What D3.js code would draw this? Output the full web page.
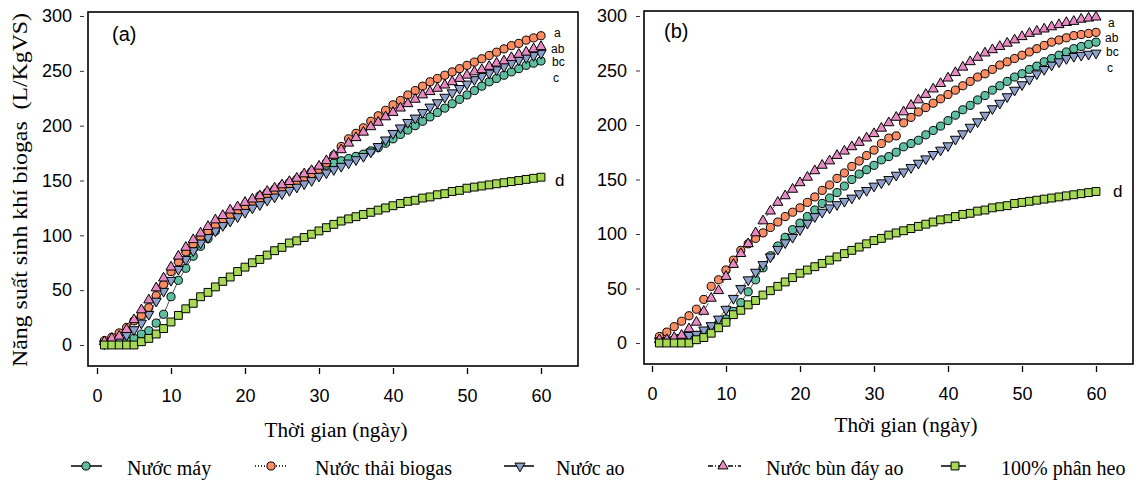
<!DOCTYPE html>
<html>
<head>
<meta charset="utf-8">
<script src="https://cdn.jsdelivr.net/npm/d3@7"></script>
<style>
  body { margin: 0; background: #fff; }
  .tick text { font-family: "Liberation Sans", Arial, sans-serif; font-size: 18px; fill: #000; }
  .serif { font-family: "Liberation Serif", "Times New Roman", serif; fill: #000; }
</style>
</head>
<body>
<svg id="chart" width="1138" height="482"></svg>
<script>
// days 1..60
let days = d3.range(1, 61);

// panel (a)
let mayA = [1, 2, 3, 4, 6, 10, 13, 20, 28, 44,
  59, 70, 81, 90, 97, 104, 110, 116, 121, 126,
  131, 136, 139, 142, 145, 148, 151, 155, 158, 161,
  164, 166, 168, 170, 172, 174, 177, 180, 184, 188,
  192, 196, 200, 204, 208, 212, 216, 220, 224, 228,
  232, 236, 240, 243, 246, 249, 252, 255, 257, 259];
let thaiA = [4, 7, 11, 16, 22, 27, 34, 45, 55, 67,
  76, 85, 92, 99, 104, 109, 114, 118, 122, 126,
  129, 132, 136, 139, 142, 146, 149, 152, 156, 160,
  166, 173, 181, 188, 193, 198, 204, 209, 214, 219,
  223, 228, 232, 236, 240, 243, 246, 249, 252, 255,
  258, 261, 264, 267, 270, 273, 275, 278, 280, 282];
let aoA = [1, 2, 4, 9, 14, 20, 28, 40, 49, 59,
  69, 78, 86, 93, 98, 104, 109, 113, 117, 121,
  125, 128, 132, 135, 138, 141, 144, 147, 150, 154,
  157, 160, 163, 166, 169, 172, 176, 181, 187, 193,
  198, 203, 207, 212, 217, 221, 226, 230, 234, 238,
  242, 245, 248, 251, 254, 257, 260, 262, 264, 266];
let bunA = [3, 6, 8, 14, 23, 32, 41, 52, 61, 71,
  81, 89, 96, 102, 108, 114, 118, 123, 126, 130,
  133, 136, 140, 143, 146, 149, 152, 156, 159, 163,
  168, 173, 178, 184, 189, 194, 199, 203, 208, 212,
  216, 220, 224, 228, 231, 234, 237, 240, 243, 246,
  249, 251, 254, 257, 259, 262, 265, 267, 270, 272];
let heoA = [0, 0, 0, 0, 0, 3, 6, 10, 15, 21,
  27, 33, 38, 44, 48, 53, 58, 62, 67, 71,
  75, 78, 82, 86, 89, 93, 95, 98, 101, 104,
  107, 110, 113, 115, 117, 119, 121, 123, 125, 127,
  129, 131, 132, 134, 135, 137, 138, 140, 141, 143,
  144, 145, 146, 147, 148, 149, 150, 151, 152, 153];

// panel (b)
let mayB = [2, 2, 3, 3, 5, 7, 10, 14, 18, 22,
  29, 37, 47, 58, 69, 80, 89, 97, 104, 110,
  116, 122, 128, 133, 138, 144, 150, 155, 159, 163,
  168, 171, 175, 180, 183, 186, 191, 195, 199, 204,
  209, 214, 218, 223, 227, 232, 236, 240, 244, 247,
  251, 254, 258, 261, 264, 267, 270, 272, 274, 276];
let thaiB = [6, 10, 15, 20, 25, 31, 40, 52, 58, 67,
  76, 85, 91, 96, 101, 106, 111, 116, 120, 124,
  129, 134, 140, 145, 151, 156, 162, 167, 172, 177,
  183, 188, 190, 202, 207, 212, 216, 220, 224, 228,
  232, 236, 240, 244, 247, 251, 255, 258, 261, 264,
  267, 270, 273, 276, 278, 280, 282, 283, 284, 285];
let aoB = [2, 2, 3, 5, 7, 8, 12, 16, 22, 31,
  41, 50, 58, 65, 72, 79, 86, 92, 97, 104,
  110, 116, 120, 124, 127, 130, 133, 137, 140, 144,
  147, 150, 154, 157, 161, 165, 169, 173, 177, 181,
  187, 192, 198, 203, 209, 215, 220, 226, 232, 237,
  242, 247, 251, 255, 258, 261, 263, 264, 265, 266];
let bunB = [3, 3, 5, 7, 13, 19, 29, 41, 48, 61,
  72, 82, 91, 101, 112, 121, 129, 135, 141, 147,
  152, 158, 163, 167, 172, 176, 180, 184, 188, 192,
  197, 202, 207, 212, 218, 223, 228, 233, 238, 243,
  248, 253, 258, 262, 266, 269, 272, 275, 278, 281,
  284, 286, 288, 290, 292, 294, 295, 297, 298, 299];
let heoB = [0, 0, 0, 0, 0, 3, 5, 9, 14, 19,
  26, 30, 35, 39, 44, 48, 52, 56, 60, 64,
  67, 70, 73, 76, 79, 82, 85, 88, 91, 94,
  96, 99, 101, 103, 105, 107, 109, 111, 113, 114,
  116, 118, 119, 121, 122, 124, 125, 126, 128, 129,
  130, 131, 132, 133, 134, 135, 136, 137, 138, 139];

let seriesNames = ['Nước máy', 'Nước thải biogas', 'Nước ao', 'Nước bùn đáy ao', '100% phân heo'];
let seriesColors = ['#5dbf9f', '#fc8d62', '#8da0cb', '#e78ac3', '#a6d854'];
let seriesShapes = ['circle', 'circle', 'down', 'up', 'square'];
let seriesDash = [null, '1,2', null, '5,2,1,2', null];

let xTicks = [0, 10, 20, 30, 40, 50, 60];
let yTicks = [0, 50, 100, 150, 200, 250, 300];

// significance letters at the line ends
let lettersA = ['a', 'ab', 'bc', 'c', 'd'];
let letterValA = [281, 266, 254, 240, 145];
let lettersB = ['a', 'ab', 'bc', 'c', 'd'];
let letterValB = [290, 276, 263, 249, 134];

let svg = d3.select('#chart');

let panels = [
  { tag: '(a)', series: [mayA, thaiA, aoA, bunA, heoA], letters: lettersA, letterVals: letterValA,
    frame: [88, 12, 578, 366], xr: [97, 541], yr: [345, 16], yAxisX: 84, yPad: 8, xAxisY: 368,
    tagPos: [112, 41], titlePos: [336, 437], letterDx: [13, 10, 11, 12, 14] },
  { tag: '(b)', series: [mayB, thaiB, aoB, bunB, heoB], letters: lettersB, letterVals: letterValB,
    frame: [644, 11, 1133, 364], xr: [652, 1096], yr: [343, 16], yAxisX: 640, yPad: 9, xAxisY: 366,
    tagPos: [664, 38], titlePos: [906, 432], letterDx: [12, 9, 10, 11, 17] }
];

function symbolPath(shape) {
  if (shape == 'circle') return d3.symbol().type(d3.symbolCircle).size(52)();
  if (shape == 'square') return d3.symbol().type(d3.symbolSquare).size(62)();
  return d3.symbol().type(d3.symbolTriangle).size(44)();
}

function drawMarker(g, shape, color, cx, cy) {
  g.append('path')
    .attr('d', symbolPath(shape))
    .attr('transform', 'translate(' + cx + ',' + cy + ')' + (shape == 'down' ? ' rotate(180)' : ''))
    .attr('fill', color)
    .attr('stroke', '#000')
    .attr('stroke-width', 1);
}

panels.forEach(p => {
  let x = d3.scaleLinear().domain([0, 60]).range(p.xr);
  let y = d3.scaleLinear().domain([0, 300]).range(p.yr);
  let g = svg.append('g');

  // frame
  g.append('rect')
    .attr('x', p.frame[0]).attr('y', p.frame[1])
    .attr('width', p.frame[2] - p.frame[0]).attr('height', p.frame[3] - p.frame[1])
    .attr('fill', 'none').attr('stroke', '#000').attr('stroke-width', 1.6);

  let yAxis = d3.axisLeft(y).tickValues(yTicks).tickSize(4).tickPadding(p.yPad);
  g.append('g').attr('transform', 'translate(' + p.yAxisX + ',0)').call(yAxis)
    .call(a => a.select('.domain').remove())
    .call(a => a.selectAll('.tick line').attr('stroke', '#333'));

  let xAxis = d3.axisBottom(x).tickValues(xTicks).tickSize(6).tickPadding(15);
  g.append('g').attr('transform', 'translate(0,' + p.xAxisY + ')').call(xAxis)
    .call(a => a.select('.domain').remove())
    .call(a => a.selectAll('.tick line').attr('stroke', '#000').attr('stroke-width', 1.3));

  let lineFn = d3.line().x((d, i) => x(days[i])).y(d => y(d));

  p.series.forEach((vals, si) => {
    g.append('path')
      .attr('d', lineFn(vals))
      .attr('fill', 'none')
      .attr('stroke', '#222')
      .attr('stroke-width', 0.8)
      .attr('stroke-dasharray', seriesDash[si]);
    let mg = g.append('g');
    vals.forEach((v, i) => drawMarker(mg, seriesShapes[si], seriesColors[si], x(days[i]), y(v)));
  });

  p.letters.forEach((t, i) => {
    g.append('text')
      .attr('x', x(60) + p.letterDx[i])
      .attr('y', y(p.letterVals[i]))
      .style('font-family', '"Liberation Sans", Arial, sans-serif')
      .style('font-size', t == 'd' ? '17px' : '12px')
      .text(t);
  });

  g.append('text')
    .attr('x', p.tagPos[0]).attr('y', p.tagPos[1])
    .style('font-family', '"Liberation Sans", Arial, sans-serif')
    .style('font-size', '20px')
    .text(p.tag);

  g.append('text')
    .attr('class', 'serif')
    .attr('x', p.titlePos[0]).attr('y', p.titlePos[1])
    .attr('text-anchor', 'middle')
    .attr('textLength', 143).attr('lengthAdjust', 'spacingAndGlyphs')
    .style('font-size', '20px')
    .text('Thời gian (ngày)');
});

// y axis title
svg.append('text')
  .attr('class', 'serif')
  .attr('transform', 'translate(27,190) rotate(-90)')
  .attr('text-anchor', 'middle')
  .attr('textLength', 354).attr('lengthAdjust', 'spacingAndGlyphs')
  .style('font-size', '21px')
  .style('white-space', 'pre')
  .text('Năng suất sinh khí biogas  (L/KgVS)');

// legend
let legendLines = [[71, 102], [255, 286], [504, 534], [708, 741], [941, 966]];
let legendMarkX = [86, 271, 520, 723, 955];
let legendTextX = [127, 315, 556, 766, 1001];
let lg = svg.append('g');
seriesNames.forEach((name, i) => {
  lg.append('line')
    .attr('x1', legendLines[i][0]).attr('x2', legendLines[i][1])
    .attr('y1', 466).attr('y2', 466)
    .attr('stroke', '#000').attr('stroke-width', 1.5)
    .attr('stroke-dasharray', seriesDash[i]);
  drawMarker(lg, seriesShapes[i], seriesColors[i], legendMarkX[i], 466);
  lg.append('text')
    .attr('class', 'serif')
    .attr('x', legendTextX[i]).attr('y', 475)
    .style('font-size', '20px')
    .text(name);
});
</script>
</body>
</html>
